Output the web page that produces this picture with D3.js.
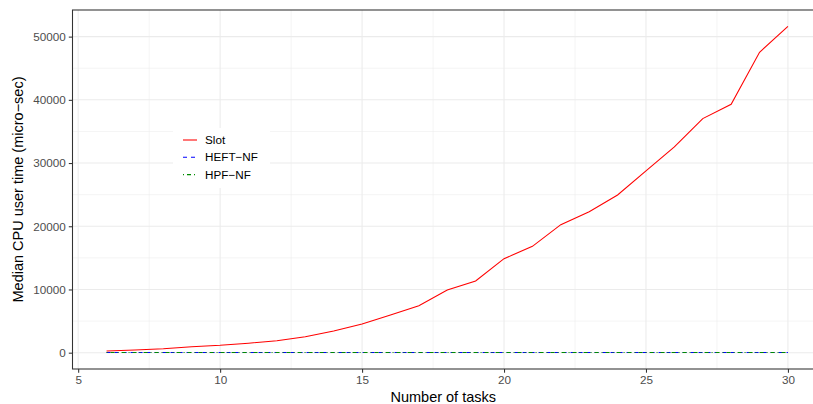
<!DOCTYPE html>
<html lang="en">
<head>
    <meta charset="UTF-8">
    <title>Median CPU user time</title>
    <script src="https://d3js.org/d3.v7.min.js"></script>
    <style>
        body { margin: 0; background: #fff; }
        text { font-family: "Liberation Sans", Arial, sans-serif; }
    </style>
</head>
<body>
    <svg width="813" height="404"></svg>
    <script>
        const tasks = d3.range(6, 31);
        const slot = [270, 430, 630, 950, 1170, 1490, 1900, 2530, 3430, 4540, 5960, 7440, 9920, 11340,
                      14870, 16820, 20250, 22310, 24950, 28750, 32550, 37030, 39290, 47520, 51630];
        const heftNF = [30, 30, 30, 30, 30, 30, 30, 30, 30, 30, 30, 30, 30, 30,
                        30, 30, 30, 30, 30, 30, 30, 30, 30, 30, 30];
        const hpfNF = [30, 30, 30, 30, 30, 30, 30, 30, 30, 30, 30, 30, 30, 30,
                       30, 30, 30, 30, 30, 30, 30, 30, 30, 30, 30];
        const xTicks = [5, 10, 15, 20, 25, 30];
        const yTicks = [0, 10000, 20000, 30000, 40000, 50000];

        const series = [
            { name: "Slot", values: slot, color: "#FF0000", dash: null },
            { name: "HEFT\u2212NF", values: heftNF, color: "#0000FF", dash: "4,4" },
            { name: "HPF\u2212NF", values: hpfNF, color: "#008B00", dash: "1,3,4,3" }
        ];

        const svg = d3.select("svg");
        const pLeft = 72.5, pTop = 10, pBottom = 369, pRight = 822;

        // ggplot style 5% expansion
        const xr = d3.extent(tasks), xe = (xr[1] - xr[0]) * 0.05;
        const yMax = d3.max(slot), ye = yMax * 0.05;
        const x = d3.scaleLinear().domain([xr[0] - xe, xr[1] + xe]).range([pLeft, pRight]);
        const y = d3.scaleLinear().domain([-ye, yMax + ye]).range([pBottom, pTop]);

        const g = svg.append("g");

        // minor grid
        const xMinor = [7.5, 12.5, 17.5, 22.5, 27.5];
        const yMinor = [5000, 15000, 25000, 35000, 45000];
        g.selectAll(".xminor").data(xMinor).enter().append("line")
            .attr("x1", d => x(d)).attr("x2", d => x(d))
            .attr("y1", pTop).attr("y2", pBottom)
            .attr("stroke", "#EBEBEB").attr("stroke-width", 0.55);
        g.selectAll(".yminor").data(yMinor).enter().append("line")
            .attr("x1", pLeft).attr("x2", pRight)
            .attr("y1", d => y(d)).attr("y2", d => y(d))
            .attr("stroke", "#EBEBEB").attr("stroke-width", 0.55);
        // major grid
        g.selectAll(".xmajor").data(xTicks).enter().append("line")
            .attr("x1", d => x(d)).attr("x2", d => x(d))
            .attr("y1", pTop).attr("y2", pBottom)
            .attr("stroke", "#EBEBEB").attr("stroke-width", 1.07);
        g.selectAll(".ymajor").data(yTicks).enter().append("line")
            .attr("x1", pLeft).attr("x2", pRight)
            .attr("y1", d => y(d)).attr("y2", d => y(d))
            .attr("stroke", "#EBEBEB").attr("stroke-width", 1.07);

        // lines
        const line = d3.line().x((d, i) => x(tasks[i])).y(d => y(d));
        series.forEach(s => {
            g.append("path")
                .datum(s.values)
                .attr("d", line)
                .attr("fill", "none")
                .attr("stroke", s.color)
                .attr("stroke-width", 1.07)
                .attr("stroke-dasharray", s.dash);
        });

        // panel border
        g.append("rect")
            .attr("x", pLeft).attr("y", pTop)
            .attr("width", pRight - pLeft).attr("height", pBottom - pTop)
            .attr("fill", "none").attr("stroke", "#333333").attr("stroke-width", 1.07);

        // axes
        const xAxis = svg.append("g")
            .attr("transform", `translate(0,${pBottom})`)
            .call(d3.axisBottom(x).tickValues(xTicks).tickSize(3.7).tickPadding(3));
        const yAxis = svg.append("g")
            .attr("transform", `translate(${pLeft},0)`)
            .call(d3.axisLeft(y).tickValues(yTicks).tickFormat(d3.format("d")).tickSize(3.7).tickPadding(3));
        [xAxis, yAxis].forEach(a => {
            a.select(".domain").remove();
            a.selectAll(".tick line").attr("stroke", "#333333").attr("stroke-width", 1.07);
            a.selectAll(".tick text").attr("fill", "#4D4D4D")
                .style("font-size", "11.7px").style("font-family", "Liberation Sans, Arial, sans-serif");
        });

        svg.append("text")
            .attr("x", (pLeft + pRight) / 2 - 4).attr("y", 402)
            .attr("text-anchor", "middle")
            .style("font-size", "14.5px")
            .text("Number of tasks");
        svg.append("text")
            .attr("transform", `translate(23,${(pTop + pBottom) / 2}) rotate(-90)`)
            .attr("text-anchor", "middle")
            .style("font-size", "14.5px")
            .text("Median CPU user time (micro\u2212sec)");

        // legend
        const legend = svg.append("g").attr("transform", "translate(173,128)");
        legend.append("rect").attr("width", 97).attr("height", 60).attr("fill", "#fff");
        const item = legend.selectAll(".item").data(series).enter().append("g")
            .attr("transform", (d, i) => `translate(10,${12 + i * 17.3})`);
        item.append("line")
            .attr("x1", 0).attr("x2", 14)
            .attr("stroke", d => d.color).attr("stroke-width", 1.07)
            .attr("stroke-dasharray", d => d.dash);
        item.append("text")
            .attr("x", 22).attr("dy", "0.35em")
            .style("font-size", "11.7px")
            .text(d => d.name);
    </script>
</body>
</html>
